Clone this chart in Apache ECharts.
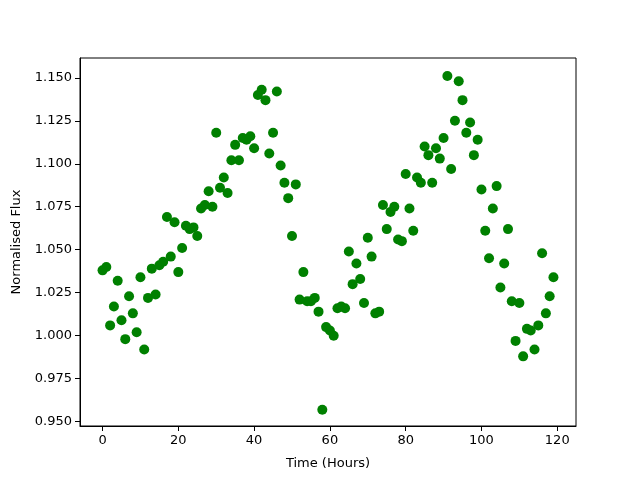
<!DOCTYPE html>
<html>
<head>
<meta charset="utf-8">
<script src="https://cdn.jsdelivr.net/npm/echarts@6/dist/echarts.min.js"></script>
<style>html,body{margin:0;padding:0;background:#fff}#c{width:640px;height:480px}</style>
</head>
<body>
<div id="c"></div>
<script>
const hours = Array.from({length: 120}, (_, i) => i);
const flux = [
1.038,1.040,1.006,1.017,1.032,1.009,0.998,1.023,1.013,1.002,
1.034,0.992,1.022,1.039,1.024,1.041,1.043,1.069,1.046,1.066,
1.037,1.051,1.064,1.062,1.063,1.058,1.074,1.076,1.084,1.075,
1.118,1.086,1.092,1.083,1.102,1.111,1.102,1.115,1.114,1.116,
1.109,1.140,1.143,1.137,1.106,1.118,1.142,1.099,1.089,1.080,
1.058,1.088,1.021,1.037,1.020,1.020,1.022,1.014,0.957,1.005,
1.003,1.000,1.016,1.017,1.016,1.049,1.030,1.042,1.033,1.019,
1.057,1.046,1.013,1.014,1.076,1.062,1.072,1.075,1.056,1.055,
1.094,1.074,1.061,1.092,1.089,1.110,1.105,1.089,1.109,1.103,
1.115,1.151,1.097,1.125,1.148,1.137,1.118,1.124,1.105,1.114,
1.085,1.061,1.045,1.074,1.087,1.028,1.042,1.062,1.020,0.997,
1.019,0.988,1.004,1.003,0.992,1.006,1.048,1.013,1.023,1.034
];
const xTicks = [0, 20, 40, 60, 80, 100, 120];
const yTicks = [0.950, 0.975, 1.000, 1.025, 1.050, 1.075, 1.100, 1.125, 1.150];

const points = hours.map((h, i) => [h, flux[i]]);
const font = 'DejaVu Sans';
const chart = echarts.init(document.getElementById('c'), null, {renderer: 'canvas'});
chart.setOption({
  animation: false,
  grid: {left: 80, right: 64, top: 58, bottom: 54, show: true, borderColor: '#000', borderWidth: 1, backgroundColor: 'transparent'},
  xAxis: {
    type: 'value', min: -5.95, max: 124.95,
    name: 'Time (Hours)', nameLocation: 'middle', nameGap: 31,
    nameTextStyle: {fontFamily: font, fontSize: 13, color: '#000'},
    axisLine: {show: true, onZero: false, lineStyle: {color: '#000', width: 1}},
    axisTick: {show: true, inside: false, length: 5, lineStyle: {color: '#000'}, customValues: xTicks},
    axisLabel: {fontFamily: font, fontSize: 13, color: '#000', margin: 8, customValues: xTicks},
    splitLine: {show: false}
  },
  yAxis: {
    type: 'value', min: 0.9475, max: 1.1615,
    name: 'Normalised Flux', nameLocation: 'middle', nameGap: 57,
    nameTextStyle: {fontFamily: font, fontSize: 13, color: '#000'},
    axisLine: {show: true, onZero: false, lineStyle: {color: '#000', width: 1}},
    axisTick: {show: true, inside: false, length: 5, lineStyle: {color: '#000'}, customValues: yTicks},
    axisLabel: {fontFamily: font, fontSize: 13, color: '#000', margin: 8, customValues: yTicks,
      formatter: v => v.toFixed(3)},
    splitLine: {show: false}
  },
  series: [{
    type: 'scatter', data: points, symbol: 'circle', symbolSize: 10,
    itemStyle: {color: '#008000', opacity: 1}
  }]
});
</script>
</body>
</html>
